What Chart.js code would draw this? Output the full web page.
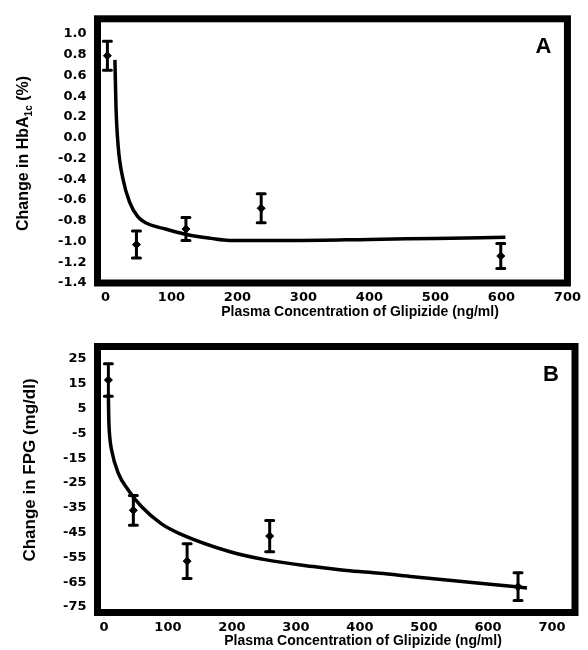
<!DOCTYPE html>
<html>
<head>
<meta charset="utf-8">
<script src="https://cdn.jsdelivr.net/npm/chart.js@4.4.0/dist/chart.umd.min.js"></script>
<style>
  body { margin: 0; background: #fff; }
  #wrap { position: relative; width: 588px; height: 650px; background: #fff; }
  canvas { position: absolute; left: 0; }
</style>
</head>
<body>
<div id="wrap">
  <canvas id="chart-a" width="588" height="325" style="top:0"></canvas>
  <canvas id="chart-b" width="588" height="325" style="top:325px"></canvas>
</div>
<script>
// tick labels
const xTicks = [0, 100, 200, 300, 400, 500, 600, 700];
const hbaTicks = [-1.4, -1.2, -1.0, -0.8, -0.6, -0.4, -0.2, 0.0, 0.2, 0.4, 0.6, 0.8, 1.0];
const fpgTicks = [-75, -65, -55, -45, -35, -25, -15, -5, 5, 15, 25];

// panel A: change in HbA1c, mean +/- error
const concA = [3, 47, 122, 236, 599];
const hbaMean = [0.79, -1.03, -0.88, -0.68, -1.14];
const hbaErr = [0.14, 0.13, 0.11, 0.14, 0.12];
// fitted curve A
const fitAx = [14.4, 16, 19.3, 26.7, 36.6, 49, 61, 91, 121, 160, 188, 287, 400, 500, 606];
const fitAy = [0.75, 0.30, -0.08, -0.40, -0.62, -0.76, -0.82, -0.88, -0.93, -0.97, -0.99, -0.99, -0.98, -0.97, -0.96];

// panel B: change in FPG, mean +/- error
const concB = [7, 46, 130, 259, 647];
const fpgMean = [16.5, -36, -56.5, -46.4, -66.8];
const fpgErr = [6.5, 6, 7, 6.3, 5.6];
// fitted curve B
const fitBx = [7, 7.5, 9, 12, 22.4, 38, 59, 90, 119, 197, 254, 327, 379, 431, 483, 587, 661];
const fitBy = [11, 2, -6, -11.7, -21, -27.8, -34.6, -41.5, -45.5, -52.7, -56, -58.7, -60.3, -61.4, -62.8, -65.4, -67.3];

const xTitle = "Plasma Concentration of Glipizide (ng/ml)";

const tickFont = { family: "DejaVu Sans", size: 13, weight: "bold" };

// frame, error bars, titles and panel letter
const extras = {
  id: "extras",
  afterDatasetsDraw(chart, args, opts) {
    const ctx = chart.ctx;
    const xs = chart.scales.x, ys = chart.scales.y;
    const a = chart.chartArea;
    ctx.save();
    ctx.strokeStyle = "#000";
    ctx.fillStyle = "#000";

    // error bars
    ctx.lineWidth = 3;
    ctx.lineCap = "round";
    opts.xs.forEach((xv, i) => {
      const px = xs.getPixelForValue(xv);
      const top = ys.getPixelForValue(opts.mean[i] + opts.err[i]);
      const bot = ys.getPixelForValue(opts.mean[i] - opts.err[i]);
      ctx.beginPath();
      ctx.moveTo(px, top); ctx.lineTo(px, bot);
      ctx.moveTo(px - 4, top); ctx.lineTo(px + 4, top);
      ctx.moveTo(px - 4, bot); ctx.lineTo(px + 4, bot);
      ctx.stroke();
    });

    // frame
    ctx.lineWidth = 7;
    ctx.lineCap = "butt";
    ctx.lineJoin = "miter";
    ctx.strokeRect(a.left, a.top, a.right - a.left, a.bottom - a.top);

    // panel letter
    ctx.font = "bold 22px 'Liberation Sans', Arial, sans-serif";
    ctx.textAlign = "center";
    ctx.textBaseline = "middle";
    ctx.fillText(opts.letter, a.right - 24, a.top + 28);

    // x title
    ctx.font = "bold 14px 'Liberation Sans', Arial, sans-serif";
    ctx.fillText(xTitle, opts.xTitlePos[0], opts.xTitlePos[1]);

    // y title (rotated, with optional subscript)
    const big = "bold " + opts.yFont + "px 'Liberation Sans', Arial, sans-serif";
    const small = "bold " + Math.round(opts.yFont * 0.62) + "px 'Liberation Sans', Arial, sans-serif";
    let total = 0;
    opts.yTitle.forEach(p => {
      ctx.font = p.sub ? small : big;
      total += ctx.measureText(p.text).width;
    });
    ctx.translate(opts.yTitlePos[0], opts.yTitlePos[1]);
    ctx.rotate(-Math.PI / 2);
    ctx.textAlign = "left";
    ctx.textBaseline = "alphabetic";
    let x = -total / 2;
    const base = opts.yFont * 0.36;
    opts.yTitle.forEach(p => {
      ctx.font = p.sub ? small : big;
      ctx.fillText(p.text, x, base + (p.sub ? opts.yFont * 0.25 : 0));
      x += ctx.measureText(p.text).width;
    });
    ctx.restore();
  }
};

function makeChart(id, cfg) {
  return new Chart(document.getElementById(id), {
    type: "scatter",
    data: {
      datasets: [
        {
          data: cfg.xs.map((v, i) => ({ x: v, y: cfg.mean[i] })),
          pointStyle: "rectRot",
          pointRadius: 4,
          pointBackgroundColor: "#000",
          pointBorderColor: "#000",
          showLine: false
        },
        {
          data: cfg.fitX.map((v, i) => ({ x: v, y: cfg.fitY[i] })),
          showLine: true,
          borderColor: "#000",
          borderWidth: 3.5,
          pointRadius: 0,
          cubicInterpolationMode: "monotone"
        }
      ]
    },
    options: {
      responsive: false,
      animation: false,
      layout: { padding: { top: cfg.padTop, right: cfg.padRight, left: 0, bottom: 0 } },
      plugins: {
        legend: { display: false },
        tooltip: { enabled: false },
        extras: cfg.extras
      },
      scales: {
        x: {
          type: "linear",
          min: cfg.xMin,
          max: cfg.xMax,
          grid: { display: false, drawTicks: false },
          border: { display: false },
          afterBuildTicks: s => { s.ticks = xTicks.map(v => ({ value: v })); },
          afterFit: s => { s.height = cfg.xHeight; },
          ticks: { color: "#000", font: tickFont, padding: cfg.xPad, maxRotation: 0, autoSkip: false }
        },
        y: {
          type: "linear",
          min: cfg.yMin,
          max: cfg.yMax,
          grid: { display: false, drawTicks: false },
          border: { display: false },
          afterBuildTicks: s => { s.ticks = cfg.yTicks.map(v => ({ value: v })); },
          afterFit: s => { s.width = cfg.yWidth; },
          ticks: {
            color: "#000",
            font: tickFont,
            padding: 11,
            autoSkip: false,
            callback: v => cfg.fmt(v)
          }
        }
      }
    },
    plugins: [extras]
  });
}

makeChart("chart-a", {
  xs: concA, mean: hbaMean, fitX: fitAx, fitY: fitAy,
  xMin: -12, xMax: 700, yMin: -1.4, yMax: 1.146,
  yTicks: hbaTicks, fmt: v => v.toFixed(1),
  padTop: 13.5, padRight: 14, xHeight: 42, yWidth: 97.5, xPad: 7,
  extras: {
    xs: concA, mean: hbaMean, err: hbaErr, letter: "A",
    xTitlePos: [360, 312.5], yTitlePos: [22.5, 153.5], yFont: 16,
    yTitle: [{ text: "Change in HbA" }, { text: "1c", sub: true }, { text: " (%)" }]
  }
});

makeChart("chart-b", {
  xs: concB, mean: fpgMean, fitX: fitBx, fitY: fitBy,
  xMin: -10, xMax: 736, yMin: -77.2, yMax: 30,
  yTicks: fpgTicks, fmt: v => String(v),
  padTop: 21.5, padRight: 13, xHeight: 37.5, yWidth: 97.5, xPad: 7,
  extras: {
    xs: concB, mean: fpgMean, err: fpgErr, letter: "B",
    xTitlePos: [363, 316], yTitlePos: [29, 145], yFont: 17,
    yTitle: [{ text: "Change in FPG (mg/dl)" }]
  }
});
</script>
</body>
</html>
